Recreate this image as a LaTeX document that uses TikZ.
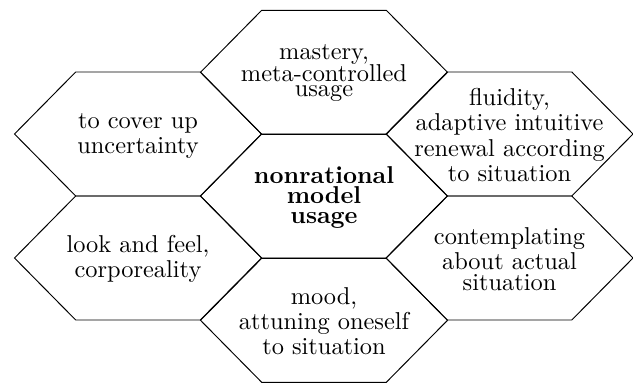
\documentclass[tikz,border=0pt]{standalone}
\begin{document}
\begin{tikzpicture}[x=0.41pt,y=-0.41pt,
  hexcell/.pic={\draw[line width=0.4pt,line join=miter]
      (-123.5,0) -- (-62.3,-62) -- (62.3,-62) -- (123.5,0)
      -- (62.3,62) -- (-62.3,62) -- cycle;},
  hextext/.style={align=center,inner sep=0pt,
      font=\fontsize{10pt}{10.3pt}\selectfont},
  hexcore/.style={hextext,font=\fontsize{10pt}{8.2pt}\selectfont\bfseries}]
\useasboundingbox (0,0) rectangle (633,383);

% honeycomb of seven cells
\pic at (324,196)   {hexcell};
\pic at (324,72.3)  {hexcell};
\pic at (324,320.3) {hexcell};
\pic at (138,134)   {hexcell};
\pic at (509.5,134) {hexcell};
\pic at (138,258)   {hexcell};
\pic at (509.5,258) {hexcell};

% cell labels
\node[hexcore] (core) at (324,197) {nonrational\\model\\usage};
\node[hextext] (mastery) at (324,73) {mastery,\\[-1.5pt]meta-controlled\\[-4pt]usage};
\node[hextext] (mood) at (324,321) {mood,\\attuning oneself\\to situation};
\node[hextext] (cover) at (138,136) {to cover up\\uncertainty};
\node[hextext] (fluid) at (509.5,135) {fluidity,\\adaptive intuitive\\renewal according\\to situation};
\node[hextext] (look) at (138,259) {look and feel,\\corporeality};
\node[hextext] (contemp) at (509.5,259) {contemplating\\about actual\\[-1.5pt]situation};
\end{tikzpicture}
\end{document}
